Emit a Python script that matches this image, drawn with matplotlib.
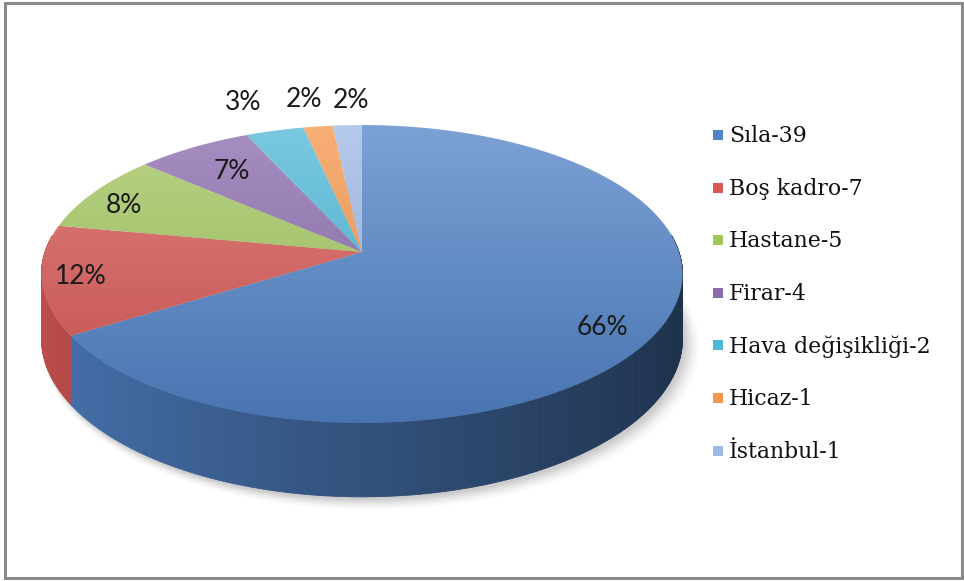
import numpy as np
import matplotlib.pyplot as plt
from matplotlib.patches import Polygon, Rectangle
from matplotlib.colors import to_rgb

# data
labels = ['Sıla', 'Boş kadro', 'Hastane', 'Firar', 'Hava değişikliği', 'Hicaz', 'İstanbul']
values = [39, 7, 5, 4, 2, 1, 1]
colors = ['#5183C8', '#D95855', '#A3C75E', '#8A6BAE', '#4DB8D8', '#F7964A', '#9DB9E6']

# pie geometry in pixels (perspective ellipse)
CX, CY = 362, 252
R, B, K, H = 317, 145.7, 0.1476, 63

# label placement: radial fraction + pixel nudge
lab_r = [0.8, 0.88, 0.87, 0.75, 1.0, 1.0, 1.0]
lab_off = [(5, 16), (0, 0), (-3, 6), (0, 0), (-32, -28), (-14, -27), (4, -25)]


def proj(theta, f=1.0, z=0.0):
    t = np.radians(theta)
    c, s = f * np.cos(t), f * np.sin(t)
    w = 1.0 / (1.0 + K * s)
    return CX + R * c * w, CY - B * s * w + H * z * w


def shade(col, k):
    return tuple(np.clip(np.array(to_rgb(col)) * k, 0, 1))


def tint(col, k):
    c = np.array(to_rgb(col))
    return tuple(c + (1 - c) * k)


fig = plt.figure(figsize=(9.64, 5.81), dpi=100)
ax = fig.add_axes([0, 0, 1, 1])
ax.axis('off')

total = sum(values)
fracs = np.array(values) / total
ends = 90 - 360 * np.cumsum(fracs)
starts = np.concatenate([[90], ends[:-1]])

# soft shadow under the pie
th = np.linspace(0, 360, 361)
for i, a in enumerate(np.linspace(0.08, 0.02, 7)):
    bx, by = proj(th, 1.0 + 0.004 * i, 1.0)
    ax.add_patch(Polygon(np.c_[bx + 3 + i, by + 3 + i * 0.8], closed=True,
                         fc='#606060', ec='none', alpha=a, zorder=1))

# side walls
for s0, s1, col in zip(starts, ends, colors):
    n = max(2, int(abs(s1 - s0) / 0.5) + 1)
    tt = np.linspace(s0, s1, n)
    for a0, a1 in zip(tt[:-1], tt[1:]):
        mid = np.radians((a0 + a1) / 2)
        if np.sin(mid) > 0.12:
            continue
        k = 0.62 - 0.25 * np.cos(mid)
        x0, y0 = proj(a0)
        x1, y1 = proj(a1)
        x2, y2 = proj(a1, 1.0, 1.0)
        x3, y3 = proj(a0, 1.0, 1.0)
        c = shade(col, k)
        ax.add_patch(Polygon([(x0, y0), (x1, y1), (x2, y2), (x3, y3)], closed=True,
                             fc=c, ec=c, lw=0.6, zorder=2))

# top faces with a vertical gradient
ygrad = np.linspace(0, 1, 200)
for s0, s1, col in zip(starts, ends, colors):
    tt = np.linspace(s0, s1, max(3, int(abs(s1 - s0)) + 2))
    ex, ey = proj(tt)
    poly = Polygon(np.r_[[(CX, CY)], np.c_[ex, ey]], closed=True,
                   fc='none', ec='none', zorder=3)
    ax.add_patch(poly)
    top_c = np.array(tint(col, 0.25))
    bot_c = np.array(shade(col, 0.88))
    img = (top_c[None, :] * (1 - ygrad[:, None]) + bot_c[None, :] * ygrad[:, None])[:, None, :]
    im = ax.imshow(img, extent=(30, 700, 430, 118), aspect='auto',
                   interpolation='bilinear', zorder=3)
    im.set_clip_path(poly)

# percentage labels
for s0, s1, v, r, (dx, dy) in zip(starts, ends, values, lab_r, lab_off):
    x, y = proj((s0 + s1) / 2, r)
    ax.text(x + dx, y + dy, f'{round(v / total * 100)}%', fontsize=19,
            family='Lato', color='#1a1a1a', ha='center', va='center', zorder=5)

# legend
for i, (lab, v, col) in enumerate(zip(labels, values, colors)):
    y = 135 + i * 52.6
    ax.add_patch(Rectangle((713, y - 5), 10, 10, fc=col, ec='none', zorder=5))
    ax.text(729, y + 1, f'{lab}-{v}', fontsize=15.8, family='DejaVu Serif',
            color='#111111', ha='left', va='center', zorder=5)

# outer frame
ax.add_patch(Rectangle((5, 3), 957, 575, fc='none', ec='#8a8a8a', lw=2.2, zorder=6))

ax.set_xlim(0, 964)
ax.set_ylim(581, 0)
fig.savefig('out.png', dpi=100)
